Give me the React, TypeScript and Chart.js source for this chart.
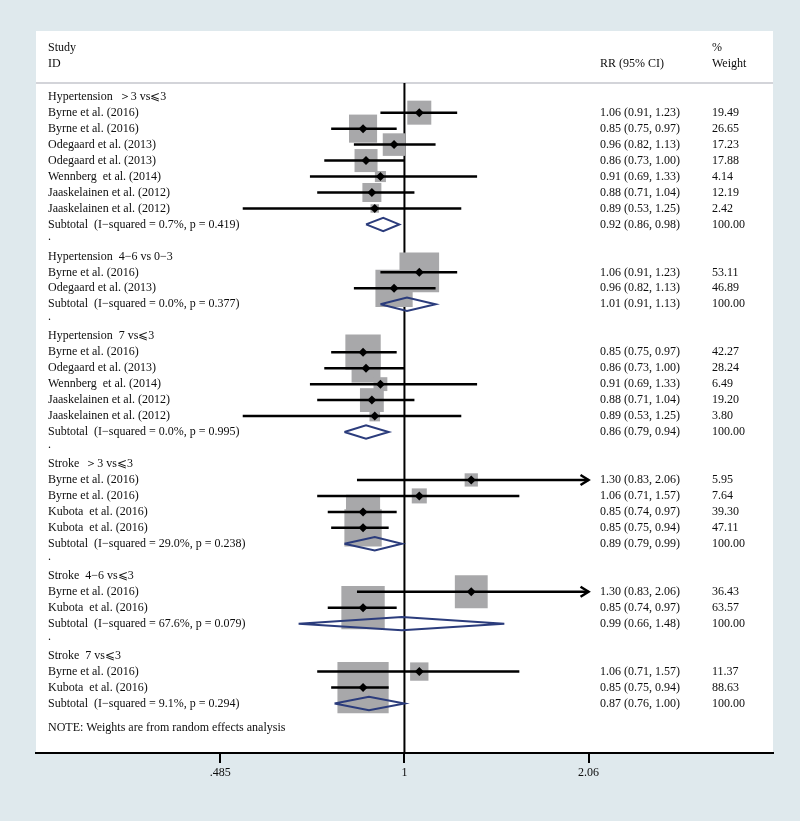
import React, { useEffect, useRef } from "react";
import { Chart, registerables } from "chart.js";

Chart.register(...registerables);

// ---------- data ----------
const groupTitles = [
  "Hypertension  ＞3 vs⩽3",
  "Hypertension  4−6 vs 0−3",
  "Hypertension  7 vs⩽3",
  "Stroke  ＞3 vs⩽3",
  "Stroke  4−6 vs⩽3",
  "Stroke  7 vs⩽3",
];
const groupSizes = [7, 2, 5, 4, 2, 2];

const studyNames = [
  "Byrne et al. (2016)",
  "Byrne et al. (2016)",
  "Odegaard et al. (2013)",
  "Odegaard et al. (2013)",
  "Wennberg  et al. (2014)",
  "Jaaskelainen et al. (2012)",
  "Jaaskelainen et al. (2012)",
  "Byrne et al. (2016)",
  "Odegaard et al. (2013)",
  "Byrne et al. (2016)",
  "Odegaard et al. (2013)",
  "Wennberg  et al. (2014)",
  "Jaaskelainen et al. (2012)",
  "Jaaskelainen et al. (2012)",
  "Byrne et al. (2016)",
  "Byrne et al. (2016)",
  "Kubota  et al. (2016)",
  "Kubota  et al. (2016)",
  "Byrne et al. (2016)",
  "Kubota  et al. (2016)",
  "Byrne et al. (2016)",
  "Kubota  et al. (2016)",
];
const studyRR = [1.06, 0.85, 0.96, 0.86, 0.91, 0.88, 0.89, 1.06, 0.96, 0.85, 0.86, 0.91, 0.88, 0.89, 1.3, 1.06, 0.85, 0.85, 1.3, 0.85, 1.06, 0.85];
const studyLower = [0.91, 0.75, 0.82, 0.73, 0.69, 0.71, 0.53, 0.91, 0.82, 0.75, 0.73, 0.69, 0.71, 0.53, 0.83, 0.71, 0.74, 0.75, 0.83, 0.74, 0.71, 0.75];
const studyUpper = [1.23, 0.97, 1.13, 1.0, 1.33, 1.04, 1.25, 1.23, 1.13, 0.97, 1.0, 1.33, 1.04, 1.25, 2.06, 1.57, 0.97, 0.94, 2.06, 0.97, 1.57, 0.94];
const studyWeight = [19.49, 26.65, 17.23, 17.88, 4.14, 12.19, 2.42, 53.11, 46.89, 42.27, 28.24, 6.49, 19.2, 3.8, 5.95, 7.64, 39.3, 47.11, 36.43, 63.57, 11.37, 88.63];

const subtotalLabels = [
  "Subtotal  (I−squared = 0.7%, p = 0.419)",
  "Subtotal  (I−squared = 0.0%, p = 0.377)",
  "Subtotal  (I−squared = 0.0%, p = 0.995)",
  "Subtotal  (I−squared = 29.0%, p = 0.238)",
  "Subtotal  (I−squared = 67.6%, p = 0.079)",
  "Subtotal  (I−squared = 9.1%, p = 0.294)",
];
const subtotalRR = [0.92, 1.01, 0.86, 0.89, 0.99, 0.87];
const subtotalLower = [0.86, 0.91, 0.79, 0.79, 0.66, 0.76];
const subtotalUpper = [0.98, 1.13, 0.94, 0.99, 1.48, 1.0];
const subtotalWeight = [100, 100, 100, 100, 100, 100];

const axisTicks = [0.485, 1, 2.06];
const axisTickLabels = [".485", "1", "2.06"];
const arrowCap = 2.06;

const headerStudy = ["Study", "ID"];
const headerRR = "RR (95% CI)";
const headerWeight = ["%", "Weight"];
const noteText = "NOTE: Weights are from random effects analysis";

// ---------- layout (styles) ----------
const W = 800;
const H = 821;
const PANEL_L = 36;
const PANEL_R = 773;
const PANEL_T = 31;
const PANEL_B = 753;
const Y_MIN = -4.114;
const Y_MAX = 41.1;
const SQUARE_K = 5.44; // px side per sqrt(weight)
const FONT = "12px 'Liberation Serif', 'DejaVu Serif', serif";
const TEXT_COLOR = "#0d0d0d";
const NAVY = "#2b3c7c";
const BG = "#dfe9ed";

type Row = { kind: "title" | "study" | "subtotal" | "dot"; y: number; idx: number };

function buildRows() {
  const rows: Row[] = [];
  let r = 0;
  let si = 0;
  groupTitles.forEach((_, g) => {
    rows.push({ kind: "title", y: r, idx: g });
    r++;
    for (let k = 0; k < groupSizes[g]; k++) {
      rows.push({ kind: "study", y: r, idx: si });
      si++;
      r++;
    }
    rows.push({ kind: "subtotal", y: r, idx: g });
    r++;
    if (g < groupTitles.length - 1) {
      rows.push({ kind: "dot", y: r, idx: g });
      r++;
    }
  });
  return { rows, noteRow: r + 0.53 };
}

const fmt = (v: number) => v.toFixed(2);

export default function App() {
  const ref = useRef<HTMLCanvasElement | null>(null);

  useEffect(() => {
    const canvas = ref.current;
    if (!canvas) return;
    const { rows, noteRow } = buildRows();
    const studyRows = rows.filter((r) => r.kind === "study");
    const subRows = rows.filter((r) => r.kind === "subtotal");

    const squares = studyRows.map((r) => ({ x: studyRR[r.idx], y: r.y }));
    const squareRadii = studyRows.map((r) => (SQUARE_K * Math.sqrt(studyWeight[r.idx])) / Math.SQRT2);
    const markers = studyRows.map((r) => ({ x: studyRR[r.idx], y: r.y }));
    const ciLines: any[] = [];
    studyRows.forEach((r) => {
      ciLines.push({ x: studyLower[r.idx], y: r.y });
      ciLines.push({ x: Math.min(studyUpper[r.idx], arrowCap), y: r.y });
      ciLines.push({ x: null, y: null });
    });
    const diamonds: any[] = [];
    const dh = 0.42;
    subRows.forEach((r) => {
      const i = r.idx;
      diamonds.push({ x: subtotalLower[i], y: r.y });
      diamonds.push({ x: subtotalRR[i], y: r.y - dh });
      diamonds.push({ x: subtotalUpper[i], y: r.y });
      diamonds.push({ x: subtotalRR[i], y: r.y + dh });
      diamonds.push({ x: subtotalLower[i], y: r.y });
      diamonds.push({ x: null, y: null });
    });
    const vline = [
      { x: 1, y: -0.86 },
      { x: 1, y: Y_MAX },
    ];

    const decor = {
      id: "decor",
      beforeDraw(chart: any) {
        const ctx = chart.ctx;
        ctx.save();
        ctx.fillStyle = BG;
        ctx.fillRect(0, 0, W, H);
        ctx.fillStyle = "#ffffff";
        ctx.fillRect(PANEL_L, PANEL_T, PANEL_R - PANEL_L, PANEL_B - PANEL_T);
        const ys = chart.scales.y;
        const sepY = ys.getPixelForValue(-0.86);
        ctx.strokeStyle = "#c4c6cc";
        ctx.lineWidth = 1.5;
        ctx.beginPath();
        ctx.moveTo(PANEL_L, sepY);
        ctx.lineTo(PANEL_R, sepY);
        ctx.stroke();
        ctx.restore();
      },
      afterDraw(chart: any) {
        const ctx = chart.ctx;
        const xs = chart.scales.x;
        const ys = chart.scales.y;
        ctx.save();
        ctx.font = FONT;
        ctx.fillStyle = TEXT_COLOR;
        ctx.textAlign = "left";
        ctx.textBaseline = "middle";
        const LX = 48;
        const RX = 600;
        const WX = 712;
        // header
        ctx.fillText(headerStudy[0], LX, ys.getPixelForValue(-3.03));
        ctx.fillText(headerStudy[1], LX, ys.getPixelForValue(-2.08));
        ctx.fillText(headerRR, RX, ys.getPixelForValue(-2.08));
        ctx.fillText(headerWeight[0], WX, ys.getPixelForValue(-3.03));
        ctx.fillText(headerWeight[1], WX, ys.getPixelForValue(-2.08));
        rows.forEach((r) => {
          const py = ys.getPixelForValue(r.y);
          if (r.kind === "title") {
            ctx.fillText(groupTitles[r.idx], LX, py);
          } else if (r.kind === "study") {
            const i = r.idx;
            ctx.fillText(studyNames[i], LX, py);
            ctx.fillText(`${fmt(studyRR[i])} (${fmt(studyLower[i])}, ${fmt(studyUpper[i])})`, RX, py);
            ctx.fillText(fmt(studyWeight[i]), WX, py);
          } else if (r.kind === "subtotal") {
            const i = r.idx;
            ctx.fillText(subtotalLabels[i], LX, py);
            ctx.fillText(`${fmt(subtotalRR[i])} (${fmt(subtotalLower[i])}, ${fmt(subtotalUpper[i])})`, RX, py);
            ctx.fillText(fmt(subtotalWeight[i]), WX, py);
          } else {
            ctx.textBaseline = "alphabetic";
            ctx.fillText(".", LX, py);
            ctx.textBaseline = "middle";
          }
        });
        ctx.fillText(noteText, LX, ys.getPixelForValue(noteRow));
        // arrows for truncated CIs
        ctx.strokeStyle = "#000";
        ctx.lineWidth = 2.5;
        ctx.lineJoin = "miter";
        studyRows.forEach((r) => {
          if (studyUpper[r.idx] >= arrowCap) {
            const px = xs.getPixelForValue(arrowCap);
            const py = ys.getPixelForValue(r.y);
            ctx.beginPath();
            ctx.moveTo(px - 8, py - 5);
            ctx.lineTo(px, py);
            ctx.lineTo(px - 8, py + 5);
            ctx.stroke();
          }
        });
        ctx.restore();
      },
    };

    const chart = new Chart(canvas, {
      type: "scatter",
      data: {
        datasets: [
          {
            data: vline,
            showLine: true,
            borderColor: "#000",
            borderWidth: 2,
            pointRadius: 0,
            order: 5,
          } as any,
          {
            data: squares,
            pointStyle: "rect",
            pointRadius: squareRadii,
            backgroundColor: "#a8a8aa",
            borderWidth: 0,
            order: 4,
          } as any,
          {
            data: ciLines,
            showLine: true,
            spanGaps: false,
            borderColor: "#000",
            borderWidth: 2.5,
            borderCapStyle: "butt",
            pointRadius: 0,
            order: 3,
          } as any,
          {
            data: diamonds,
            showLine: true,
            spanGaps: false,
            borderColor: NAVY,
            borderWidth: 2,
            borderJoinStyle: "miter",
            fill: false,
            pointRadius: 0,
            order: 2,
          } as any,
          {
            data: markers,
            pointStyle: "rectRot",
            pointRadius: 4.5,
            backgroundColor: "#000",
            borderColor: "#000",
            borderWidth: 0,
            order: 1,
          } as any,
        ],
      },
      options: {
        responsive: false,
        animation: false,
        events: [],
        layout: { autoPadding: false, padding: { left: PANEL_L, right: W - PANEL_R, top: PANEL_T, bottom: 0 } },
        plugins: { legend: { display: false }, tooltip: { enabled: false } },
        scales: {
          x: {
            type: "logarithmic",
            position: "bottom",
            min: 0.2354,
            max: 4.25,
            bounds: "data",
            afterFit: (s: any) => {
              s.height = H - PANEL_B;
            },
            afterBuildTicks: (s: any) => {
              s.ticks = axisTicks.map((v) => ({ value: v }));
            },
            ticks: {
              callback: (_v: any, i: number) => axisTickLabels[i],
              font: { family: "'Liberation Serif', serif", size: 12 },
              color: TEXT_COLOR,
              autoSkip: false,
              maxRotation: 0,
              padding: 3,
            },
            grid: { drawOnChartArea: false, drawTicks: true, tickLength: 10, color: "#000", lineWidth: 2 },
            border: { display: true, color: "#000", width: 2 },
          } as any,
          y: {
            type: "linear",
            display: false,
            reverse: true,
            min: Y_MIN,
            max: Y_MAX,
          },
        },
      },
      plugins: [decor],
    });
    return () => chart.destroy();
  }, []);

  return (
    <div style={{ position: "fixed", left: 0, top: 0, width: W, height: H }}>
      <canvas ref={ref} width={W} height={H} style={{ width: W, height: H, display: "block" }} />
    </div>
  );
}
